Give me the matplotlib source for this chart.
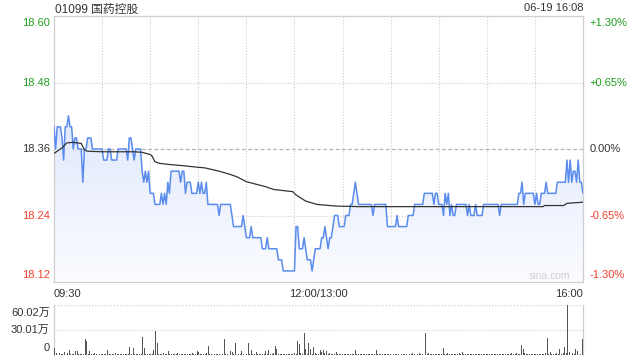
import numpy as np
import matplotlib
matplotlib.use('Agg')
import matplotlib.pyplot as plt
from matplotlib.colors import LinearSegmentedColormap

plt.rcParams['font.family'] = ['Liberation Sans', 'Noto Sans CJK SC']

# minute prices 09:30-12:00 / 13:00-16:00 (331 points)
price = [
    18.40, 18.36, 18.40, 18.40, 18.40, 18.38, 18.34, 18.40, 18.40, 18.42,
    18.40, 18.40, 18.36, 18.38, 18.38, 18.36, 18.36, 18.36, 18.30, 18.36,
    18.36, 18.38, 18.38, 18.38, 18.36, 18.36, 18.36, 18.36, 18.36, 18.36,
    18.36, 18.34, 18.34, 18.34, 18.36, 18.36, 18.34, 18.34, 18.34, 18.34,
    18.36, 18.36, 18.36, 18.36, 18.36, 18.36, 18.34, 18.38, 18.38, 18.36,
    18.34, 18.36, 18.36, 18.36, 18.36, 18.32, 18.30, 18.32, 18.30, 18.32,
    18.28, 18.28, 18.28, 18.26, 18.26, 18.26, 18.26, 18.28, 18.26, 18.28,
    18.26, 18.30, 18.28, 18.32, 18.32, 18.32, 18.32, 18.32, 18.32, 18.30,
    18.32, 18.32, 18.28, 18.30, 18.30, 18.30, 18.28, 18.28, 18.28, 18.28,
    18.30, 18.28, 18.30, 18.28, 18.28, 18.30, 18.26, 18.26, 18.26, 18.26,
    18.26, 18.26, 18.26, 18.24, 18.26, 18.26, 18.26, 18.26, 18.26, 18.26,
    18.26, 18.24, 18.22, 18.22, 18.22, 18.22, 18.22, 18.22, 18.24, 18.22,
    18.20, 18.20, 18.20, 18.22, 18.20, 18.20, 18.20, 18.20, 18.20, 18.20,
    18.18, 18.18, 18.18, 18.20, 18.18, 18.18, 18.18, 18.18, 18.18, 18.18,
    18.16, 18.16, 18.16, 18.14, 18.14, 18.14, 18.14, 18.14, 18.14, 18.14,
    18.14, 18.22, 18.22, 18.18, 18.18, 18.18, 18.20, 18.18, 18.16, 18.16,
    18.16, 18.14, 18.16, 18.18, 18.18, 18.18, 18.18, 18.20, 18.20, 18.22,
    18.20, 18.18, 18.20, 18.20, 18.22, 18.24, 18.24, 18.24, 18.22, 18.22,
    18.22, 18.22, 18.24, 18.24, 18.24, 18.26, 18.26, 18.28, 18.30, 18.28,
    18.26, 18.26, 18.26, 18.26, 18.26, 18.26, 18.26, 18.26, 18.26, 18.24,
    18.26, 18.26, 18.26, 18.26, 18.26, 18.26, 18.26, 18.26, 18.22, 18.22,
    18.22, 18.22, 18.22, 18.22, 18.24, 18.22, 18.22, 18.22, 18.22, 18.22,
    18.22, 18.24, 18.24, 18.24, 18.24, 18.26, 18.26, 18.26, 18.26, 18.26,
    18.26, 18.28, 18.28, 18.28, 18.28, 18.28, 18.28, 18.26, 18.28, 18.28,
    18.26, 18.26, 18.26, 18.24, 18.28, 18.26, 18.28, 18.24, 18.26, 18.24,
    18.24, 18.26, 18.26, 18.26, 18.26, 18.26, 18.26, 18.26, 18.24, 18.26,
    18.24, 18.24, 18.24, 18.26, 18.24, 18.24, 18.24, 18.24, 18.26, 18.26,
    18.26, 18.26, 18.26, 18.26, 18.26, 18.26, 18.26, 18.26, 18.24, 18.26,
    18.26, 18.26, 18.26, 18.26, 18.26, 18.26, 18.26, 18.26, 18.26, 18.26,
    18.28, 18.28, 18.30, 18.26, 18.28, 18.28, 18.28, 18.28, 18.28, 18.28,
    18.26, 18.28, 18.26, 18.26, 18.28, 18.28, 18.28, 18.30, 18.28, 18.28,
    18.28, 18.28, 18.28, 18.28, 18.30, 18.30, 18.30, 18.30, 18.30, 18.30,
    18.34, 18.30, 18.34, 18.30, 18.32, 18.32, 18.30, 18.34, 18.30, 18.30,
    18.28,
]

# average price line
avg_min = [0, 2, 5, 8, 12, 17, 19, 21, 30, 40, 50, 55, 60, 61, 63, 66, 72, 80,
           90, 94, 103, 110, 114, 120, 124, 132, 137, 149, 151, 157, 164, 176,
           190, 250, 305, 306, 318, 320, 330]
avg_val = [18.352, 18.356, 18.362, 18.371, 18.372, 18.370, 18.358, 18.356,
           18.355, 18.355, 18.355, 18.354, 18.350, 18.348, 18.337, 18.334,
           18.332, 18.330, 18.327, 18.326, 18.320, 18.314, 18.310, 18.301,
           18.298, 18.292, 18.287, 18.283, 18.277, 18.266, 18.260, 18.257,
           18.256, 18.256, 18.256, 18.258, 18.258, 18.262, 18.264]

# volume in 万股
volume = [
    8, 2, 3.5, 2.8, 1.5, 1, 3.5, 1.2, 2.5, 6,
    1.5, 1, 1.2, 4.5, 4.5, 1, 0.8, 1.5, 1, 19,
    17, 1.5, 4.5, 1.2, 0.8, 3, 1, 0.6, 0.8, 1,
    0.8, 1, 1.2, 5.5, 1.5, 1, 1.2, 0.8, 2.5, 1,
    1, 0.8, 1.2, 1, 1.5, 1, 0.8, 10, 1.2, 9,
    1, 0.8, 1.5, 1, 1.2, 22, 8, 1, 1.2, 1,
    0.8, 1.2, 5.5, 29, 15, 1.5, 1, 1.2, 2, 1,
    1.5, 4.5, 1, 1.2, 0.8, 1.5, 1, 3, 1.2, 1,
    0.8, 1.2, 1, 1.5, 0.8, 1, 2, 1.2, 1.5, 4.5,
    3.5, 1, 1.5, 1.2, 1, 2.5, 11, 1.2, 1.5, 5,
    1, 1.2, 0.8, 1, 1.5, 1.2, 19, 1, 1.5, 1.2,
    4.5, 3.5, 1, 14, 1.2, 0.8, 1, 4.5, 1.2, 1,
    1.5, 14, 1.2, 6, 1.5, 1, 3.5, 1.2, 0.8, 1.5,
    1, 1.2, 4.5, 1.5, 6, 1, 1.2, 2, 11, 7,
    1, 1.2, 0.8, 1, 1.5, 0.8, 1.2, 1, 1.5, 1,
    2.5, 1.2, 17, 13, 2, 1.5, 27, 7, 1.5, 14,
    7, 1.5, 10, 2, 1.2, 1, 6, 4, 6, 3,
    5, 1.2, 2, 1.5, 1, 1.2, 4, 1, 1.5, 1.2,
    1, 0.8, 1.5, 1.2, 1, 1.5, 1.2, 1, 6, 1.5,
    1.2, 1, 1.5, 1.2, 0.8, 1, 1.2, 1.5, 1, 1.2,
    1, 6, 1.2, 1.5, 1, 0.8, 1.2, 1, 0.8, 1,
    1.2, 0.8, 1, 1.2, 0.8, 1, 1.2, 0.8, 1, 1.2,
    1, 1.5, 1.2, 1, 2, 1.5, 6, 1.2, 2.5, 1.5,
    1, 2, 27, 1.5, 2, 1.2, 1, 1.5, 1.2, 1,
    1.5, 1.2, 1, 9, 1.5, 1.2, 2, 1, 1.5, 1.2,
    1, 1.5, 1.2, 2, 1, 4, 1.2, 1, 1.5, 1.2,
    1, 1.5, 1.2, 1, 1.5, 1, 1.2, 1.5, 1, 1.2,
    1, 1.5, 1.2, 1, 1.5, 1.2, 1, 1.5, 1.2, 1,
    1.5, 1.2, 1, 1.5, 1, 1.2, 2, 1.5, 1.2, 2.5,
    1.5, 1.2, 12, 7, 2, 1.5, 1.2, 1, 1.5, 1.2,
    1, 1.5, 1.2, 1, 1.5, 1, 1.2, 2, 21, 1.5,
    4, 1.2, 1, 1.5, 2, 1.2, 7, 1.5, 2, 10,
    2, 60.02, 4, 1.5, 2, 1.5, 7, 5, 2, 1.5,
    19,
]

prev_close = 18.36
price_ticks = [18.60, 18.48, 18.36, 18.24, 18.12]
pct_labels = ['+1.30%', '+0.65%', '0.00%', '-0.65%', '-1.30%']
vol_ticks = [60.02, 30.01, 0]
vol_labels = ['60.02万', '30.01万', '0']
time_labels = ['09:30', '12:00/13:00', '16:00']

GREEN = '#1e9e1e'
RED = '#f03e2c'
DARK = '#333333'
GRID = '#cfcfcf'
label_colors = [GREEN, GREEN, DARK, RED, RED]

W, H = 640, 360
fig = plt.figure(figsize=(6.4, 3.6), dpi=100)
ax = fig.add_axes([54 / W, 1 - 282 / H, 529 / W, 266 / H])
vax = fig.add_axes([54 / W, 1 - 355 / H, 529 / W, 50 / H])

minutes = np.arange(len(price))
ymin, ymax = price_ticks[-1], price_ticks[0]

# gradient fill under price line
fill = ax.fill_between(minutes, price, ymin, color='none', lw=0)
cmap = LinearSegmentedColormap.from_list('fade', ['#fbfcff', '#dfe8fb'])
grad = np.linspace(1, 0, 256).reshape(-1, 1)
im = ax.imshow(grad, cmap=cmap, aspect='auto', extent=(0, 330, ymin, max(price)),
               zorder=1, interpolation='bilinear')
im.set_clip_path(fill.get_paths()[0], transform=ax.transData)

# grid
for m in range(30, 330, 30):
    ax.axvline(m, color=GRID, lw=0.8, ls=(0, (1, 1.5)), zorder=0)
    vax.axvline(m, color='none')
for p in [18.48, 18.24]:
    ax.axhline(p, color=GRID, lw=0.8, ls=(0, (1, 1.5)), zorder=0)
ax.axhline(prev_close, color='#b5b5b5', lw=0.9, ls=(0, (3, 2)), zorder=0)

ax.plot(minutes, price, color='#5a8cee', lw=1.1, zorder=3)
ax.plot(avg_min, avg_val, color='#333333', lw=0.9, zorder=4)

ax.set_xlim(0, 330)
ax.set_ylim(ymin, ymax)
ax.set_xticks([])
ax.set_yticks([])
for s in ax.spines.values():
    s.set_color(GRID)
    s.set_linewidth(0.9)

# price labels left / percent labels right
for i, (p, c) in enumerate(zip(price_ticks, label_colors)):
    va = 'top' if i == 0 else ('bottom' if i == len(price_ticks) - 1 else 'center')
    off = -0.006 if i == 0 else (0.008 if i == len(price_ticks) - 1 else 0)
    yy = (p - ymin) / (ymax - ymin) + off
    ax.text(-0.007, yy, f'{p:.2f}', transform=ax.transAxes, ha='right', va=va,
            color=c, fontsize=8)
    ax.text(1.013, yy, pct_labels[i], transform=ax.transAxes, ha='left', va=va,
            color=c, fontsize=8)

# time labels
ax.text(0, -0.025, time_labels[0], transform=ax.transAxes, ha='left', va='top',
        fontsize=8, color=DARK)
ax.text(0.5, -0.025, time_labels[1], transform=ax.transAxes, ha='center', va='top',
        fontsize=8, color=DARK)
ax.text(1, -0.025, time_labels[2], transform=ax.transAxes, ha='right', va='top',
        fontsize=8, color=DARK)

ax.text(0.975, 0.005, 'sina.com', transform=ax.transAxes, ha='right', va='bottom',
        fontsize=7.5, color='#d0d0d0', zorder=5)

# header
fig.text(55 / W, 1 - 10 / H, '01099 国药控股', ha='left', va='center',
         fontsize=8.5, color=DARK)
fig.text(583 / W, 1 - 8 / H, '06-19 16:08', ha='right', va='center',
         fontsize=8, color=DARK)

# volume
vax.bar(minutes, volume, width=0.6, color='#555555', zorder=3)
vax.axhline(vol_ticks[1], color=GRID, lw=0.8, ls=(0, (1, 1.5)), zorder=0)
vax.axhline(vol_ticks[0], color=GRID, lw=0.9, ls=(0, (1, 1.5)), zorder=0)
vax.set_xlim(-0.5, 330.5)
vax.set_ylim(0, vol_ticks[0])
vax.set_xticks([])
vax.set_yticks([])
for name, s in vax.spines.items():
    s.set_color(GRID)
    s.set_linewidth(0.9)
vax.spines['top'].set_visible(False)
vax.spines['bottom'].set_visible(False)

for i, (v, t) in enumerate(zip(vol_ticks, vol_labels)):
    va = 'top' if i == 0 else ('bottom' if i == len(vol_ticks) - 1 else 'center')
    off = -0.06 if i == 0 else (0.04 if i == len(vol_ticks) - 1 else 0)
    vax.text(-0.008, v / vol_ticks[0] + off, t, transform=vax.transAxes,
             ha='right', va=va, fontsize=8, color=DARK)

fig.savefig('out.png', dpi=100)
